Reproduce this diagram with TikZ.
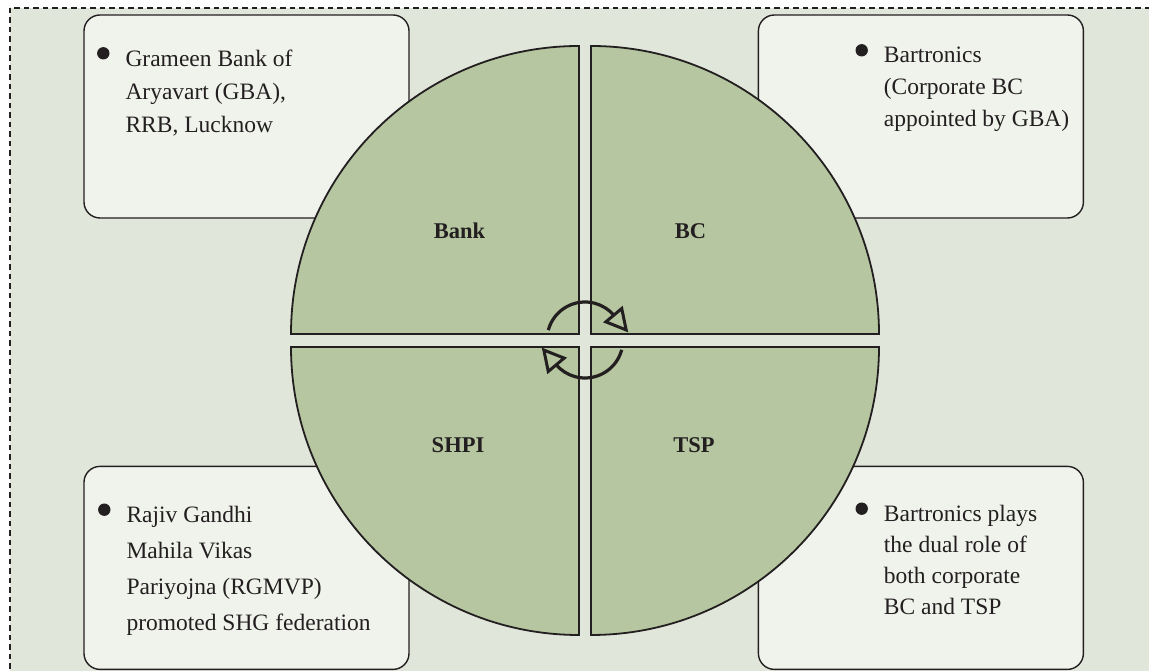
\documentclass[tikz,border=0pt]{standalone}
\usepackage{fontspec}
\setmainfont{Liberation Serif}
\usetikzlibrary{positioning,arrows.meta}

\definecolor{framebg}{RGB}{225,230,218}
\definecolor{boxbg}{RGB}{240,242,236}
\definecolor{quadgreen}{RGB}{181,198,160}
\definecolor{inkgray}{RGB}{35,31,32}

\begin{document}
\begin{tikzpicture}[
    x=1pt, y=1pt,
    frame/.style={draw=inkgray, fill=framebg, line width=1.6pt, dash pattern=on 5.5pt off 4pt},
    infobox/.style={draw=inkgray, fill=boxbg, line width=1.4pt, rounded corners=16pt,
        minimum width=325pt, minimum height=203pt},
    itemtext/.style={anchor=north west, align=left, inner sep=0pt, text=inkgray,
        font=\fontsize{23.5}{#1}\selectfont},
    quadrant/.style={draw=inkgray, fill=quadgreen, line width=1.8pt},
    quadlabel/.style={anchor=base, text=inkgray, font=\fontsize{22.5}{26}\selectfont\bfseries},
    cyclearrow/.style={draw=inkgray, line width=3.2pt,
        -{Triangle[open, length=24pt, width=25pt, line width=3pt]}}
]
\useasboundingbox (0,0) rectangle (1149,671);
\clip (0,0) rectangle (1149,671);
\draw[frame] (10,663) rectangle (1170,-20);

% the four boxes
\node[infobox] (bankbox) at (246.5,554.5) {};
\node[infobox, right=348pt of bankbox] (bcbox) {};
\node[infobox, below=247pt of bankbox] (shpibox) {};
\node[infobox, below=247pt of bcbox] (tspbox) {};

\node[itemtext=33] (banktext) at ([shift={(42pt,-35pt)}]bankbox.north west)
    {Grameen Bank of\\Aryavart (GBA),\\RRB, Lucknow};
\node[itemtext=32] (bctext) at ([shift={(126pt,-32pt)}]bcbox.north west)
    {Bartronics\\(Corporate BC\\appointed by GBA)};
\node[itemtext=36] (shpitext) at ([shift={(43pt,-40pt)}]shpibox.north west)
    {Rajiv Gandhi\\Mahila Vikas\\Pariyojna (RGMVP)\\promoted SHG federation};
\node[itemtext=31] (tsptext) at ([shift={(126pt,-39pt)}]tspbox.north west)
    {Bartronics plays\\the dual role of\\both corporate\\BC and TSP};
\foreach \t in {banktext, bctext, shpitext, tsptext}
    \fill[inkgray] ([shift={(-22pt,-4pt)}]\t.north west) circle (6.2pt);

% the split circle
\foreach \cx/\cy/\a in {579/337/90, 591/337/0, 579/324/180, 591/324/270}
    \draw[quadrant] (\cx,\cy) -- ++(\a:288) arc[start angle=\a, delta angle=90, radius=288] -- cycle;

\node[quadlabel] (banklabel) at (459.5,432) {Bank};
\node[quadlabel] (bclabel) at (690.5,432) {BC};
\node[quadlabel] (shpilabel) at (458,218) {SHPI};
\node[quadlabel] (tsplabel) at (694,218) {TSP};

% cycle arrows
\coordinate (hub) at (585,331);
\draw[cyclearrow] ([shift={(165:38pt)}]hub) arc[start angle=165, end angle=40, radius=38pt] -- ++(-50:22pt);
\draw[cyclearrow] ([shift={(-15:38pt)}]hub) arc[start angle=-15, end angle=-140, radius=38pt] -- ++(130:22pt);
\end{tikzpicture}
\end{document}
